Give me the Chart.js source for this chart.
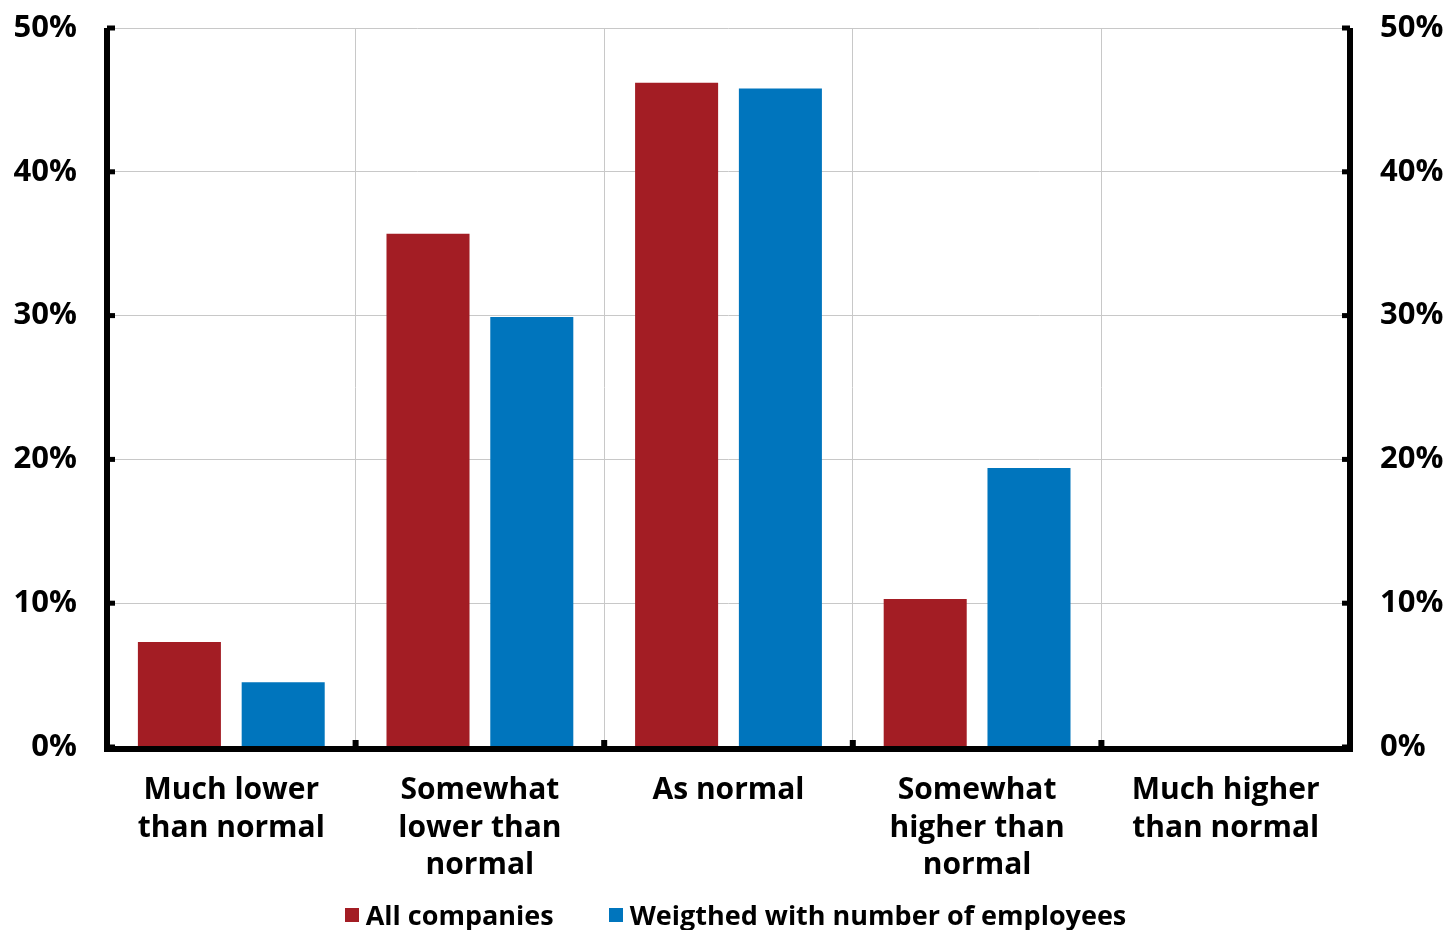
<!DOCTYPE html>
<html>
<head>
<meta charset="utf-8">
<script src="https://cdn.jsdelivr.net/npm/chart.js@4"></script>
<style>
  html, body { margin: 0; padding: 0; background: #fff; }
  #wrap { position: relative; width: 1447px; height: 930px; overflow: hidden; }
  #legend {
    position: absolute; left: 0; top: 898px; width: 1447px; height: 34px;
    display: flex; justify-content: center; gap: 55px; padding-left: 24px; box-sizing: border-box;
    font: bold 27px "Open Sans", "DejaVu Sans", sans-serif; line-height: 34px; color: #000;
  }
  #legend .item { display: flex; align-items: center; white-space: nowrap; }
  #legend .swatch { width: 14px; height: 14px; margin-right: 7px; }
</style>
</head>
<body>
<div id="wrap">
  <canvas id="outlookChart"></canvas>
  <div id="legend"></div>
</div>
<script>
// Categories and shares (%)
const categories = [
  ['Much lower', 'than normal'],
  ['Somewhat', 'lower than', 'normal'],
  'As normal',
  ['Somewhat', 'higher than', 'normal'],
  ['Much higher', 'than normal']
];
const allCompanies = [7.3, 35.7, 46.2, 10.3, 0];
const weightedByEmployees = [4.5, 29.9, 45.8, 19.4, 0];
const tickValues = [0, 10, 20, 30, 40, 50];

const RED = '#a31d24';
const BLUE = '#0075bd';
const GRID = '#c8c8c8';
const FONT = '"Open Sans", "DejaVu Sans", sans-serif';

// Thick black frame with short inward tick marks
const frameAxes = {
  id: 'frameAxes',
  afterDatasetsDraw(chart) {
    const { ctx, chartArea: a, scales } = chart;
    const lw = 6;
    ctx.save();
    ctx.strokeStyle = '#000';
    ctx.fillStyle = '#000';
    ctx.lineWidth = lw;
    ctx.beginPath();
    ctx.moveTo(a.left, a.top);
    ctx.lineTo(a.left, a.bottom + lw / 2);
    ctx.moveTo(a.left - lw / 2, a.bottom + lw / 2 - 1);
    ctx.lineTo(a.right + lw / 2, a.bottom + lw / 2 - 1);
    ctx.moveTo(a.right, a.bottom + lw / 2);
    ctx.lineTo(a.right, a.top);
    ctx.stroke();
    // y ticks, pointing into the plot
    tickValues.forEach(v => {
      const y = scales.y.getPixelForValue(v);
      ctx.fillRect(a.left, y - 2.5, 8, 5);
      ctx.fillRect(a.right - 8, y - 2.5, 8, 5);
    });
    // x ticks at category boundaries
    const n = categories.length;
    const step = (a.right - a.left) / n;
    for (let i = 1; i < n; i++) {
      const x = scales.x.getPixelForValue(i) - step / 2;
      ctx.fillRect(x - 3, a.bottom - 7, 6, 8);
    }
    ctx.restore();
  }
};

const yTicks = {
  stepSize: 10,
  color: '#000',
  padding: 30,
  font: { family: FONT, size: 31, weight: 'bold' },
  callback: v => v + '%'
};

const ctx = document.getElementById('outlookChart').getContext('2d');
const chart = new Chart(ctx, {
  type: 'bar',
  data: {
    labels: categories,
    datasets: [
      { label: 'All companies', data: allCompanies, backgroundColor: RED },
      { label: 'Weigthed with number of employees', data: weightedByEmployees, backgroundColor: BLUE }
    ]
  },
  options: {
    responsive: true,
    maintainAspectRatio: false,
    animation: false,
    categoryPercentage: 0.835,
    barPercentage: 0.8,
    layout: { padding: { top: 28, left: 0, right: 0, bottom: 0 } },
    plugins: {
      tooltip: { enabled: false },
      legend: { display: false }
    },
    scales: {
      x: {
        grid: { color: GRID, lineWidth: 1, offset: true, drawTicks: false },
        border: { display: false },
        ticks: {
          color: '#000',
          padding: 25,
          maxRotation: 0,
          autoSkip: false,
          font: { family: FONT, size: 30, weight: 'bold', lineHeight: 1.25 }
        },
        afterFit(scale) { scale.height = 183; }
      },
      y: {
        position: 'left',
        min: 0,
        max: 50,
        grid: { color: GRID, lineWidth: 1, drawTicks: false },
        border: { display: false },
        ticks: yTicks,
        afterFit(scale) {
          scale.width = 107;
          scale.paddingTop = 0;
          scale.paddingBottom = 0;
        }
      },
      y2: {
        position: 'right',
        min: 0,
        max: 50,
        grid: { display: false, drawTicks: false },
        border: { display: false },
        ticks: yTicks,
        afterFit(scale) {
          scale.width = 97;
          scale.paddingTop = 0;
          scale.paddingBottom = 0;
        }
      }
    }
  },
  plugins: [frameAxes]
});

// Legend row under the chart, built from the datasets
const legendEl = document.getElementById('legend');
chart.data.datasets.forEach(ds => {
  const item = document.createElement('div');
  item.className = 'item';
  const sw = document.createElement('span');
  sw.className = 'swatch';
  sw.style.background = ds.backgroundColor;
  item.appendChild(sw);
  item.appendChild(document.createTextNode(ds.label));
  legendEl.appendChild(item);
});
</script>
</body>
</html>
